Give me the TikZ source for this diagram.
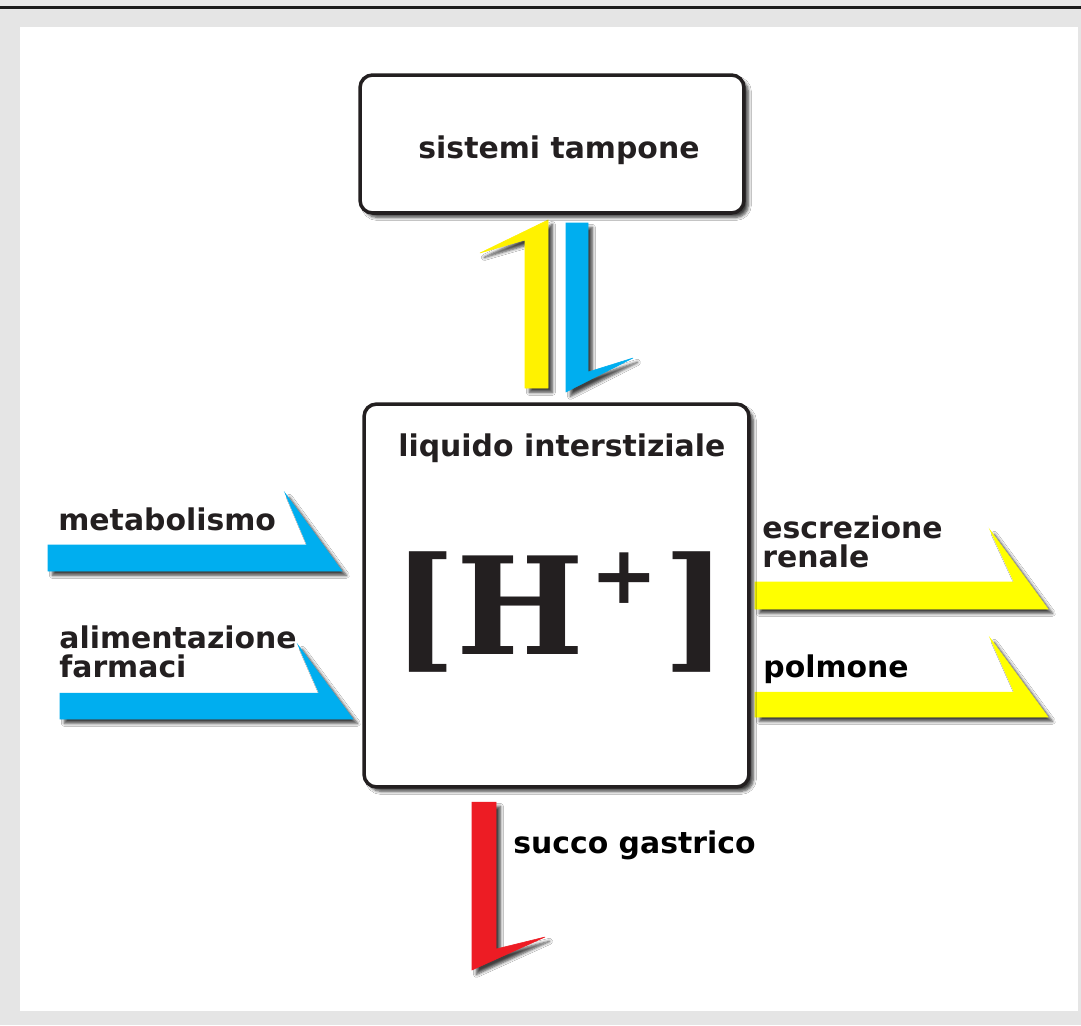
\documentclass[tikz,border=0pt]{standalone}
\usepackage{fontspec}
\newfontfamily\labelfont{DejaVu Sans}
\newfontfamily\ionfont{DejaVu Serif}
\usetikzlibrary{positioning,shadows,shadows.blur,calc}
\definecolor{bggray}{HTML}{E5E5E5}
\definecolor{inkdark}{HTML}{231F20}
\definecolor{hyellow}{HTML}{FFF200}
\definecolor{ryellow}{HTML}{FFFF00}
\definecolor{hblue}{HTML}{00AEEF}
\definecolor{hred}{HTML}{ED1C24}

\begin{document}
\begin{tikzpicture}[x=0.02cm,y=-0.02cm,
box/.style={
  draw=inkdark,
  line width=2pt,
  rounded corners=0.25cm,
  fill=white,
  blur shadow={shadow xshift=2.5pt, shadow yshift=-2.5pt, shadow blur steps=6, shadow opacity=75}},
lbl/.style={
  font=\labelfont\bfseries\fontsize{17}{16.2}\selectfont,
  text=inkdark,
  inner sep=0pt,
  anchor=base west,
  align=left},
harp/.style={
  draw=black!55,
  line width=0.3pt,
  blur shadow={shadow xshift=2.5pt, shadow yshift=-2.5pt, shadow blur steps=5, shadow opacity=75}}
]
\useasboundingbox (0,0) rectangle (1081,1025);
% background
\fill[bggray] (0,0) rectangle (1081,1025);
\fill[white] (20,27) rectangle (1078,1011);
\draw[line width=1.7pt, black!90] (0,7.5) -- (1081,7.5);

% ingoing / outgoing arrows
\fill[harp, hblue] (48,545) -- (307,545) -- (285,493) -- (342,571) -- (48,571) -- cycle;
\fill[harp, hblue] (60,693) -- (319,693) -- (298,645) -- (353,719) -- (60,719) -- cycle;
\fill[harp, ryellow] (755,582) -- (1014,582) -- (990,530) -- (1048,609) -- (755,609) -- cycle;
\fill[harp, ryellow] (755,692) -- (1014,692) -- (990,638) -- (1048,717) -- (755,717) -- cycle;
\fill[harp, hred] (472,802) -- (496,802) -- (496,949) -- (545,937) -- (472,970) -- cycle;
% equilibrium
\fill[harp, hyellow] (548,220) -- (480,253) -- (525,240) -- (525,388) -- (548,388) -- cycle;
\fill[harp, hblue] (566,223) -- (588,223) -- (588,372) -- (633,358) -- (566,392) -- cycle;

% boxes
\node[box, minimum width=7.68cm, minimum height=2.76cm] (tampone) at (552,144) {};
\node[box, minimum width=7.7cm, minimum height=7.66cm] (liquido) at (556.5,595.5) {};

\node[lbl, anchor=base] (tamponetxt) at (559,158) {sistemi tampone};
\node[lbl] (liquidotxt) at (398,456) {liquido interstiziale};
\node[anchor=base, inner sep=0pt, text=inkdark,
  font=\ionfont\bfseries\fontsize{77}{77}\selectfont] (hplus) at (560,654)
  {[H\kern3pt\raisebox{29pt}{\fontsize{46}{46}\selectfont +}\kern3pt]};

\node[lbl] (metab) at (58,530) {metabolismo};
\node[lbl] (alim) at (59,677) {alimentazione\\farmaci};
\node[lbl] (escr) at (762,567) {escrezione\\renale};
\node[lbl, text=black] (polm) at (763,677) {polmone};
\node[lbl, text=black] (succo) at (513,853) {succo gastrico};
\end{tikzpicture}
\end{document}
